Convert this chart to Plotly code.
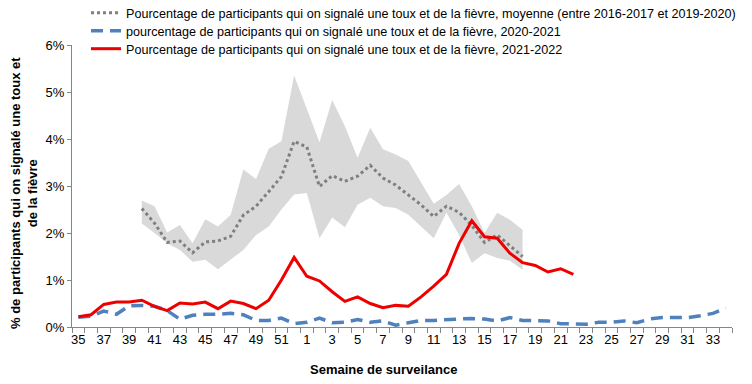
import plotly.graph_objects as go

weeks = [str(w) for w in list(range(35, 53)) + list(range(1, 35))]

red_2122 = [0.22, 0.26, 0.48, 0.53, 0.53, 0.57, 0.44, 0.35, 0.51, 0.49,
            0.53, 0.39, 0.55, 0.50, 0.39, 0.57, 1.00, 1.48, 1.08, 0.98,
            0.75, 0.545, 0.64, 0.50, 0.41, 0.46, 0.44, 0.64, 0.87, 1.12,
            1.78, 2.26, 1.92, 1.89, 1.57, 1.37, 1.31, 1.17, 1.24, 1.12]

blue_2021 = [0.21, 0.23, 0.34, 0.27, 0.45, 0.46, 0.44, 0.35, 0.165, 0.25,
             0.27, 0.27, 0.29, 0.26, 0.14, 0.14, 0.19, 0.07, 0.10, 0.19,
             0.09, 0.10, 0.16, 0.10, 0.13, 0.04, 0.09, 0.14, 0.14, 0.16,
             0.17, 0.18, 0.17, 0.13, 0.20, 0.14, 0.13, 0.13, 0.07, 0.07,
             0.06, 0.10, 0.10, 0.13, 0.09, 0.17, 0.20, 0.20, 0.20, 0.24,
             0.29, 0.40]

mean_weeks = weeks[5:36]  # semaine 40 -> 18
mean_hist = [2.52, 2.21, 1.80, 1.83, 1.58, 1.81, 1.83, 1.93, 2.38, 2.57,
             2.88, 3.20, 3.95, 3.83, 2.99, 3.22, 3.10, 3.21, 3.44, 3.17,
             3.02, 2.81, 2.60, 2.35, 2.57, 2.44, 2.16, 1.80, 1.96, 1.73, 1.50]
upper_hist = [2.69, 2.57, 2.01, 2.17, 1.78, 2.29, 2.14, 2.39, 3.35, 3.15,
              3.79, 3.95, 5.35, 4.65, 3.93, 4.83, 4.27, 3.60, 4.24, 3.78,
              3.67, 3.53, 3.07, 2.62, 2.81, 3.04, 2.57, 2.00, 2.43, 2.28, 2.07]
lower_hist = [2.20, 2.00, 1.78, 1.64, 1.39, 1.43, 1.23, 1.43, 1.64, 1.96,
              2.14, 2.50, 2.82, 2.85, 1.89, 2.33, 2.12, 2.60, 2.75, 2.57,
              2.53, 2.39, 2.14, 1.89, 2.43, 1.96, 1.36, 1.57, 1.47, 1.41, 1.22]

y_ticks = [0, 1, 2, 3, 4, 5, 6]
x_ticktext = [w if i % 2 == 0 else "" for i, w in enumerate(weeks)]

name_mean = "Pourcentage de participants qui on signalé une toux et de la fièvre, moyenne (entre 2016-2017 et 2019-2020)"
name_blue = "pourcentage de participants qui on signalé une toux et de la fièvre, 2020-2021"
name_red = "Pourcentage de participants qui on signalé une toux et de la fièvre, 2021-2022"

FONT = "Liberation Sans, Arial, sans-serif"

# page body has an 8px default margin -> layout is expressed in figure coords
W, H = 752, 384
L, R, T, B = 64, 28, 37, 65
PW, PH = W - L - R, H - T - B

fig = go.Figure()
fig.add_trace(go.Scatter(x=mean_weeks, y=lower_hist, mode="lines",
                         line=dict(width=0, color="#d9d9d9"),
                         showlegend=False, hoverinfo="skip"))
fig.add_trace(go.Scatter(x=mean_weeks, y=upper_hist, mode="lines",
                         line=dict(width=0, color="#d9d9d9"),
                         fill="tonexty", fillcolor="#d9d9d9",
                         showlegend=False, hoverinfo="skip"))
fig.add_trace(go.Scatter(x=mean_weeks, y=mean_hist, mode="lines", name=name_mean,
                         legend="legend",
                         line=dict(color="#7f7f7f", width=3, dash="dot")))
fig.add_trace(go.Scatter(x=weeks, y=blue_2021, mode="lines", name=name_blue,
                         legend="legend2",
                         line=dict(color="#4f81bd", width=3.5, dash="12px,7px")))
fig.add_trace(go.Scatter(x=weeks[:len(red_2122)], y=red_2122, mode="lines", name=name_red,
                         legend="legend3",
                         line=dict(color="#ee0000", width=3)))


def leg(row_y):
    return dict(xref="container", yref="container",
                x=78 / W, xanchor="left", y=1 - row_y / H, yanchor="middle",
                font=dict(size=12.6, family=FONT), bgcolor="rgba(0,0,0,0)",
                traceorder="normal")


fig.update_layout(
    width=W, height=H,
    margin=dict(l=L, r=R, t=T, b=B, autoexpand=False),
    paper_bgcolor="white", plot_bgcolor="white",
    font=dict(family=FONT, size=13, color="#000"),
    showlegend=True,
    legend=leg(5), legend2=leg(23), legend3=leg(41),
    xaxis=dict(type="category", categoryorder="array", categoryarray=weeks,
               range=[-0.5, len(weeks) - 0.5],
               tickmode="array", tickvals=weeks, ticktext=x_ticktext,
               tickangle=0,
               tickson="boundaries", ticks="outside", ticklen=5,
               tickcolor="#868686", showline=True, linecolor="#868686",
               linewidth=1, showgrid=False, zeroline=False,
               tickfont=dict(size=13)),
    yaxis=dict(range=[0, 6], tickmode="array", tickvals=y_ticks,
               ticktext=[f"{v}%" for v in y_ticks],
               ticks="outside", ticklen=4, tickcolor="#868686",
               showline=True, linecolor="#868686", linewidth=1,
               showgrid=False, zeroline=False, tickfont=dict(size=13)),
)

fig.add_annotation(text="<b>Semaine de surveilance</b>", xref="paper", yref="paper",
                   x=(375 - L) / PW, y=-(361 - (T + PH)) / PH, xanchor="center", yanchor="middle",
                   showarrow=False, font=dict(size=13, family=FONT, color="#000"))
fig.add_annotation(text="<b>% de participants qui on signalé une toux et<br>de la fièvre</b>",
                   xref="paper", yref="paper", x=(16 - L) / PW, y=((T + PH) - 185) / PH,
                   xanchor="center", yanchor="middle", textangle=-90, showarrow=False,
                   font=dict(size=13, family=FONT, color="#000"))

fig.write_html("out.html")
